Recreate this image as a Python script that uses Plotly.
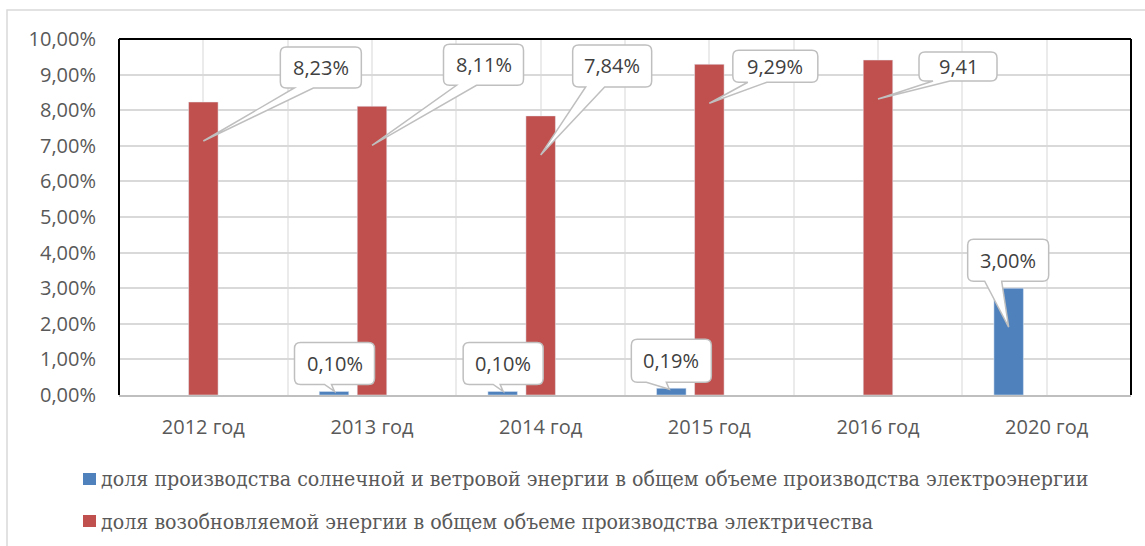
import plotly.graph_objects as go

# --- data -----------------------------------------------------------------
years = ["2012 год", "2013 год", "2014 год", "2015 год", "2016 год", "2020 год"]
solar_wind = [None, 0.10, 0.10, 0.19, None, 3.00]      # % of total generation
renewable = [8.23, 8.11, 7.84, 9.29, 9.41, None]       # % of total generation
series_names = [
    "доля производства солнечной и ветровой энергии в общем объеме производства электроэнергии",
    "доля возобновляемой энергии в общем объеме производства электричества",
]
y_ticks = [0, 1, 2, 3, 4, 5, 6, 7, 8, 9, 10]

# --- styling / layout -----------------------------------------------------
W, H = 1145, 546
ML, MR, MT, MB = 119, 14, 39, 151
PW, PH = W - ML - MR, H - MT - MB
BLUE, RED = "#4F81BD", "#C0504D"
TXT = "#595959"
FONT = "Open Sans"
LEGEND_FONT = "DejaVu Serif Condensed"

BAR_W = 0.175            # bar width in category units
SLOT = 0.2253            # distance between series centres in a category
blue_off = -SLOT - BAR_W / 2
red_off = -BAR_W / 2

x_idx = list(range(len(years)))


def px_x(p):
    return (p - ML) / PW


def px_y(p):
    return (H - MB - p) / PH


def fmt(v, pct=True):
    s = f"{v:.2f}".replace(".", ",")
    return s + ("%" if pct else "")


fig = go.Figure()
fig.add_trace(go.Bar(x=x_idx, y=solar_wind, name=series_names[0], marker_color=BLUE,
                     width=BAR_W, offset=blue_off, showlegend=False))
fig.add_trace(go.Bar(x=x_idx, y=renewable, name=series_names[1], marker_color=RED,
                     width=BAR_W, offset=red_off, showlegend=False))

shapes = []
annotations = []

# outer chart border
shapes.append(dict(type="rect", xref="paper", yref="paper",
                   x0=px_x(7), x1=px_x(W + 20), y0=px_y(10), y1=px_y(H + 20),
                   line=dict(color="#D9D9D9", width=1.5), fillcolor="rgba(0,0,0,0)",
                   layer="below"))
# black frame on left, top and right of the plot area
for (x0, y0, x1, y1) in [(0, 0, 0, 1), (0, 1, 1, 1), (1, 0, 1, 1)]:
    shapes.append(dict(type="line", xref="paper", yref="paper", x0=x0, y0=y0, x1=x1, y1=y1,
                       line=dict(color="#000000", width=2), layer="above"))

# data callouts: (series, index, show %, box dx0, dx1, dyTop, dyBot, base x0, x1, tip x, y)
callouts = [
    (1, 0, True, 77, 158, 55, 14, 91, 110, 0, -39),
    (1, 1, True, 71.5, 151.5, 62, 21, 84.5, 104.5, 0, -39),
    (1, 2, True, 32, 111, 71, 29, 45, 64, 0, -39),
    (1, 3, True, 23.5, 108.5, 14, -18, 38.5, 57.5, 0, -39),
    (1, 4, False, 41, 119, 8, -21, 55, 72, 0, -39),
    (0, 1, True, -39.5, 40.5, 49, 7, -9.5, -2.5, 0.5, 0),
    (0, 2, True, -39.5, 40.5, 49, 7, -9.5, -2.5, 0.5, 0),
    (0, 3, True, -40, 40, 49, 6, -25, -5, -2, -1),
    (0, 5, True, -41, 40, 49, 7, -24, -7, 0, -39),
]
values = [solar_wind, renewable]
offsets = [blue_off, red_off]
r = 6
for s, i, pct, L, R, T, B, bx0, bx1, tx, ty in callouts:
    v = values[s][i]
    cx = i + offsets[s] + BAR_W / 2
    path = (f"M{L + r},{T} L{R - r},{T} Q{R},{T} {R},{T - r} L{R},{B + r} Q{R},{B} {R - r},{B} "
            f"L{bx1},{B} L{tx},{ty} L{bx0},{B} L{L + r},{B} Q{L},{B} {L},{B + r} "
            f"L{L},{T - r} Q{L},{T} {L + r},{T} Z")
    shapes.append(dict(type="path", xref="x", yref="y", xsizemode="pixel", ysizemode="pixel",
                       xanchor=cx, yanchor=v, path=path, fillcolor="white",
                       line=dict(color="#BFBFBF", width=1.5), layer="above"))
    annotations.append(dict(x=cx, y=v, xref="x", yref="y", text=fmt(v, pct), showarrow=False,
                            xshift=(L + R) / 2, yshift=(T + B) / 2,
                            xanchor="center", yanchor="middle",
                            font=dict(family=FONT, size=20, color="#404040")))

# legend drawn below the chart
for k, (col, name) in enumerate(zip([BLUE, RED], series_names)):
    cy = 479 + 42 * k
    shapes.append(dict(type="rect", xref="paper", yref="paper",
                       x0=px_x(83), x1=px_x(96), y0=px_y(cy - 6), y1=px_y(cy + 6),
                       fillcolor=col, line=dict(width=0)))
    annotations.append(dict(x=px_x(99), y=px_y(cy), xref="paper", yref="paper", text=name,
                            showarrow=False, xanchor="left", yanchor="middle",
                            font=dict(family=LEGEND_FONT, size=21.2, color=TXT)))

fig.update_layout(
    width=W, height=H,
    margin=dict(l=ML, r=MR, t=MT, b=MB, pad=0),
    paper_bgcolor="white", plot_bgcolor="white",
    barmode="overlay",
    font=dict(family=FONT, size=20, color=TXT),
    shapes=shapes, annotations=annotations,
    xaxis=dict(range=[-0.5, 5.5], tickvals=x_idx, ticktext=years, ticks="",
               showgrid=True, gridcolor="#EBEBEB", gridwidth=1.5,
               minor=dict(tickvals=[k - 0.5 for k in range(len(years) + 1)],
                          showgrid=True, gridcolor="#EBEBEB", gridwidth=1.5, ticks=""),
               showline=True, linecolor="#BFBFBF", linewidth=1.5,
               zeroline=False, ticklabelstandoff=13,
               tickfont=dict(family=FONT, size=20, color=TXT), fixedrange=True),
    yaxis=dict(range=[0, 10], tickvals=y_ticks, ticktext=[fmt(t) for t in y_ticks],
               ticks="", showgrid=True, gridcolor="#D9D9D9", gridwidth=1.5,
               zeroline=False, showline=False, ticklabelstandoff=22,
               tickfont=dict(family=FONT, size=20, color=TXT), fixedrange=True),
    showlegend=False,
)

fig.write_html("out.html")
